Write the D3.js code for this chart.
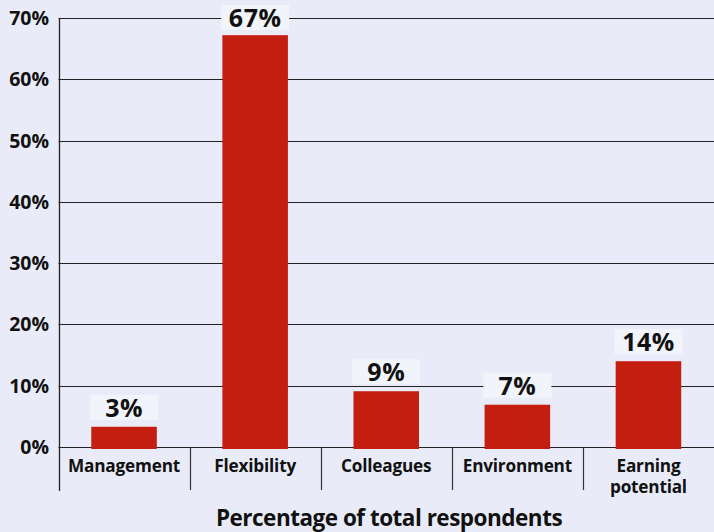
<!DOCTYPE html>
<html><head><meta charset="utf-8">
<script src="https://cdn.jsdelivr.net/npm/d3@7"></script>
<style>
html,body{margin:0;padding:0;background:#e9ecf8;}
svg{display:block;}
text{font-family:"Open Sans",sans-serif;font-weight:bold;fill:#111;}
</style></head>
<body>
<svg id="c" width="714" height="532"></svg>
<script>
const categories = ["Management", "Flexibility", "Colleagues", "Environment", "Earning potential"];
const categoryLines = [["Management"], ["Flexibility"], ["Colleagues"], ["Environment"], ["Earning", "potential"]];
const values = [3.3, 67.2, 9.1, 6.9, 14.0];
const valueLabels = ["3%", "67%", "9%", "7%", "14%"];
const yTicks = [0, 10, 20, 30, 40, 50, 60, 70];
const axisTitle = "Percentage of total respondents";

const W = 714, H = 532;
const m = {left: 58.5, right: 0, top: 18, bottom: 85};
const svg = d3.select("#c");
svg.append("rect").attr("width", W).attr("height", H).attr("fill", "#e9ecf8");

const x = d3.scaleBand().domain(categories).range([m.left, W - m.right]).paddingInner(0.5).paddingOuter(0.25);
const y = d3.scaleLinear().domain([0, 70]).range([H - m.bottom, m.top]);

// gridlines
svg.append("g").selectAll("line").data(yTicks).join("line")
  .attr("x1", m.left).attr("x2", W).attr("y1", d => Math.round(y(d)) + 0.5).attr("y2", d => Math.round(y(d)) + 0.5)
  .attr("stroke", "#222").attr("stroke-width", 1.2);

// y labels
svg.append("g").selectAll("text").data(yTicks).join("text")
  .attr("x", 49).attr("y", d => y(d) + 7).attr("text-anchor", "end")
  .attr("font-size", 19.5).text(d => d + "%");

// bars
svg.append("g").selectAll("rect").data(values).join("rect")
  .attr("x", (d, i) => x(categories[i])).attr("width", x.bandwidth())
  .attr("y", d => y(d)).attr("height", d => y(0) - y(d) + 2)
  .attr("fill", "#c41e10");

// value labels with light boxes
const lab = svg.append("g").selectAll("g").data(values).join("g")
  .attr("transform", (d, i) => `translate(${x(categories[i]) + x.bandwidth() / 2},${Math.max(y(d) - 10, 27)})`);
lab.append("rect").attr("x", -34).attr("y", -22).attr("width", 68).attr("height", 25).attr("fill", "#f2f4fb");
lab.append("text").attr("text-anchor", "middle").attr("font-size", 25).attr("letter-spacing", 0.5)
  .text((d, i) => valueLabels[i]);

// axes lines
const step = x.step();
svg.append("line").attr("x1", 59.5).attr("x2", 59.5).attr("y1", m.top).attr("y2", 491)
  .attr("stroke", "#222").attr("stroke-width", 1.3);
svg.append("g").selectAll("line").data(categories.slice(1)).join("line")
  .attr("x1", d => Math.round(x(d) - (step - x.bandwidth()) / 2) + 0.5)
  .attr("x2", d => Math.round(x(d) - (step - x.bandwidth()) / 2) + 0.5)
  .attr("y1", y(0)).attr("y2", 490).attr("stroke", "#333").attr("stroke-width", 1.2);

// category labels (each line its own text)
categories.forEach((c, i) => {
  categoryLines[i].forEach((line, j) => {
    svg.append("text").attr("x", x(c) + x.bandwidth() / 2).attr("y", 472 + j * 21)
      .attr("text-anchor", "middle").attr("font-size", 17.2).attr("letter-spacing", -0.2).text(line);
  });
});

svg.append("text").attr("x", 389).attr("y", 526).attr("text-anchor", "middle")
  .attr("font-size", 22.5).attr("letter-spacing", -0.5).text(axisTitle);
</script>
</body></html>
